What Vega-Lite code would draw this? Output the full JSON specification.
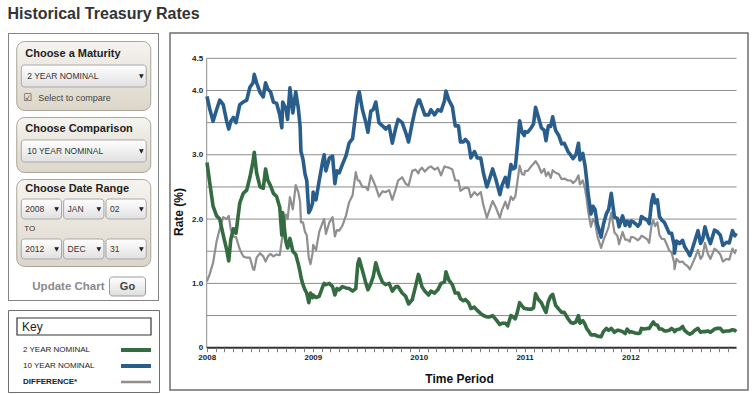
{
  "$schema": "https://vega.github.io/schema/vega-lite/v6.json",
  "background": "white",
  "padding": {"left": 7, "top": 6, "right": 0, "bottom": 0},
  "title": {"text": "Historical Treasury Rates", "anchor": "start", "font": "Liberation Sans", "fontSize": 16, "fontWeight": "bold", "color": "#333333", "offset": 10},
  "config": {"font": "Liberation Sans", "view": {"stroke": null}},
  "datasets": {
    "rates": [
      {"date":"2008-01-02","ten":3.91,"two":2.88,"diff":1.03},
      {"date":"2008-01-11","ten":3.72,"two":2.58,"diff":1.14},
      {"date":"2008-01-23","ten":3.52,"two":2.2,"diff":1.32},
      {"date":"2008-02-04","ten":3.7,"two":2.05,"diff":1.65},
      {"date":"2008-02-15","ten":3.85,"two":2.0,"diff":1.85},
      {"date":"2008-02-27","ten":3.78,"two":1.75,"diff":2.03},
      {"date":"2008-03-10","ten":3.52,"two":1.52,"diff":2.0},
      {"date":"2008-03-17","ten":3.4,"two":1.35,"diff":2.05},
      {"date":"2008-03-24","ten":3.52,"two":1.68,"diff":1.84},
      {"date":"2008-04-02","ten":3.58,"two":1.85,"diff":1.73},
      {"date":"2008-04-11","ten":3.5,"two":1.78,"diff":1.72},
      {"date":"2008-04-24","ten":3.78,"two":2.25,"diff":1.53},
      {"date":"2008-05-06","ten":3.82,"two":2.4,"diff":1.42},
      {"date":"2008-05-18","ten":3.85,"two":2.45,"diff":1.4},
      {"date":"2008-05-29","ten":4.05,"two":2.65,"diff":1.4},
      {"date":"2008-06-09","ten":4.12,"two":2.9,"diff":1.22},
      {"date":"2008-06-13","ten":4.25,"two":3.04,"diff":1.21},
      {"date":"2008-06-21","ten":4.12,"two":2.72,"diff":1.4},
      {"date":"2008-07-03","ten":3.97,"two":2.5,"diff":1.47},
      {"date":"2008-07-14","ten":3.9,"two":2.48,"diff":1.42},
      {"date":"2008-07-22","ten":4.12,"two":2.78,"diff":1.34},
      {"date":"2008-07-30","ten":4.02,"two":2.6,"diff":1.42},
      {"date":"2008-08-08","ten":3.98,"two":2.52,"diff":1.46},
      {"date":"2008-08-18","ten":3.82,"two":2.4,"diff":1.42},
      {"date":"2008-08-29","ten":3.8,"two":2.35,"diff":1.45},
      {"date":"2008-09-09","ten":3.62,"two":2.18,"diff":1.44},
      {"date":"2008-09-16","ten":3.42,"two":1.75,"diff":1.67},
      {"date":"2008-09-19","ten":3.82,"two":2.1,"diff":1.72},
      {"date":"2008-09-30","ten":3.72,"two":1.65,"diff":2.07},
      {"date":"2008-10-06","ten":3.55,"two":1.55,"diff":2.0},
      {"date":"2008-10-14","ten":4.04,"two":1.7,"diff":2.34},
      {"date":"2008-10-24","ten":3.65,"two":1.5,"diff":2.15},
      {"date":"2008-11-03","ten":3.98,"two":1.45,"diff":2.53},
      {"date":"2008-11-12","ten":3.72,"two":1.3,"diff":2.42},
      {"date":"2008-11-18","ten":3.45,"two":1.18,"diff":2.27},
      {"date":"2008-11-21","ten":3.05,"two":1.1,"diff":1.95},
      {"date":"2008-11-28","ten":2.93,"two":0.98,"diff":1.95},
      {"date":"2008-12-05","ten":2.7,"two":0.9,"diff":1.8},
      {"date":"2008-12-11","ten":2.6,"two":0.85,"diff":1.75},
      {"date":"2008-12-18","ten":2.1,"two":0.7,"diff":1.4},
      {"date":"2008-12-24","ten":2.15,"two":0.85,"diff":1.3},
      {"date":"2008-12-31","ten":2.25,"two":0.78,"diff":1.47},
      {"date":"2009-01-02","ten":2.42,"two":0.82,"diff":1.6},
      {"date":"2009-01-12","ten":2.3,"two":0.78,"diff":1.52},
      {"date":"2009-01-23","ten":2.6,"two":0.8,"diff":1.8},
      {"date":"2009-02-04","ten":2.9,"two":0.95,"diff":1.95},
      {"date":"2009-02-09","ten":3.0,"two":1.0,"diff":2.0},
      {"date":"2009-02-15","ten":2.75,"two":0.98,"diff":1.77},
      {"date":"2009-02-27","ten":2.95,"two":1.0,"diff":1.95},
      {"date":"2009-03-10","ten":2.98,"two":0.95,"diff":2.03},
      {"date":"2009-03-18","ten":2.55,"two":0.82,"diff":1.73},
      {"date":"2009-03-25","ten":2.75,"two":0.92,"diff":1.83},
      {"date":"2009-04-02","ten":2.72,"two":0.9,"diff":1.82},
      {"date":"2009-04-13","ten":2.85,"two":0.95,"diff":1.9},
      {"date":"2009-04-25","ten":2.98,"two":0.93,"diff":2.05},
      {"date":"2009-05-06","ten":3.18,"two":0.92,"diff":2.26},
      {"date":"2009-05-18","ten":3.25,"two":0.88,"diff":2.37},
      {"date":"2009-05-29","ten":3.65,"two":0.92,"diff":2.73},
      {"date":"2009-06-05","ten":3.9,"two":1.3,"diff":2.6},
      {"date":"2009-06-10","ten":3.98,"two":1.38,"diff":2.6},
      {"date":"2009-06-21","ten":3.7,"two":1.2,"diff":2.5},
      {"date":"2009-07-03","ten":3.5,"two":1.0,"diff":2.5},
      {"date":"2009-07-10","ten":3.35,"two":0.9,"diff":2.45},
      {"date":"2009-07-20","ten":3.68,"two":1.0,"diff":2.68},
      {"date":"2009-07-28","ten":3.7,"two":1.1,"diff":2.6},
      {"date":"2009-08-06","ten":3.82,"two":1.32,"diff":2.5},
      {"date":"2009-08-17","ten":3.5,"two":1.15,"diff":2.35},
      {"date":"2009-08-29","ten":3.45,"two":1.02,"diff":2.43},
      {"date":"2009-09-09","ten":3.4,"two":0.98,"diff":2.42},
      {"date":"2009-09-21","ten":3.45,"two":1.0,"diff":2.45},
      {"date":"2009-10-02","ten":3.18,"two":0.88,"diff":2.3},
      {"date":"2009-10-14","ten":3.42,"two":0.95,"diff":2.47},
      {"date":"2009-10-22","ten":3.55,"two":0.95,"diff":2.6},
      {"date":"2009-11-05","ten":3.5,"two":0.85,"diff":2.65},
      {"date":"2009-11-17","ten":3.35,"two":0.8,"diff":2.55},
      {"date":"2009-11-27","ten":3.2,"two":0.68,"diff":2.52},
      {"date":"2009-12-10","ten":3.5,"two":0.75,"diff":2.75},
      {"date":"2009-12-21","ten":3.72,"two":0.95,"diff":2.77},
      {"date":"2009-12-31","ten":3.85,"two":1.14,"diff":2.71},
      {"date":"2010-01-04","ten":3.85,"two":1.09,"diff":2.76},
      {"date":"2010-01-12","ten":3.75,"two":0.95,"diff":2.8},
      {"date":"2010-01-22","ten":3.62,"two":0.88,"diff":2.74},
      {"date":"2010-02-04","ten":3.62,"two":0.82,"diff":2.8},
      {"date":"2010-02-12","ten":3.7,"two":0.88,"diff":2.82},
      {"date":"2010-02-25","ten":3.62,"two":0.85,"diff":2.77},
      {"date":"2010-03-08","ten":3.7,"two":0.9,"diff":2.8},
      {"date":"2010-03-19","ten":3.68,"two":1.0,"diff":2.68},
      {"date":"2010-03-31","ten":3.84,"two":1.02,"diff":2.82},
      {"date":"2010-04-05","ten":3.99,"two":1.18,"diff":2.81},
      {"date":"2010-04-15","ten":3.85,"two":1.05,"diff":2.8},
      {"date":"2010-04-27","ten":3.75,"two":0.98,"diff":2.77},
      {"date":"2010-05-07","ten":3.45,"two":0.85,"diff":2.6},
      {"date":"2010-05-18","ten":3.45,"two":0.85,"diff":2.6},
      {"date":"2010-05-25","ten":3.2,"two":0.76,"diff":2.44},
      {"date":"2010-06-04","ten":3.2,"two":0.73,"diff":2.47},
      {"date":"2010-06-11","ten":3.24,"two":0.75,"diff":2.49},
      {"date":"2010-06-22","ten":3.18,"two":0.7,"diff":2.48},
      {"date":"2010-06-30","ten":2.95,"two":0.61,"diff":2.34},
      {"date":"2010-07-12","ten":3.05,"two":0.63,"diff":2.42},
      {"date":"2010-07-22","ten":2.95,"two":0.58,"diff":2.37},
      {"date":"2010-08-03","ten":2.95,"two":0.53,"diff":2.42},
      {"date":"2010-08-12","ten":2.72,"two":0.5,"diff":2.22},
      {"date":"2010-08-24","ten":2.5,"two":0.48,"diff":2.02},
      {"date":"2010-09-02","ten":2.62,"two":0.48,"diff":2.14},
      {"date":"2010-09-13","ten":2.78,"two":0.5,"diff":2.28},
      {"date":"2010-09-24","ten":2.62,"two":0.44,"diff":2.18},
      {"date":"2010-10-08","ten":2.38,"two":0.36,"diff":2.02},
      {"date":"2010-10-15","ten":2.52,"two":0.38,"diff":2.14},
      {"date":"2010-10-27","ten":2.65,"two":0.38,"diff":2.27},
      {"date":"2010-11-04","ten":2.5,"two":0.34,"diff":2.16},
      {"date":"2010-11-15","ten":2.85,"two":0.5,"diff":2.35},
      {"date":"2010-11-22","ten":2.78,"two":0.48,"diff":2.3},
      {"date":"2010-11-30","ten":2.8,"two":0.45,"diff":2.35},
      {"date":"2010-12-07","ten":3.12,"two":0.55,"diff":2.57},
      {"date":"2010-12-15","ten":3.53,"two":0.7,"diff":2.83},
      {"date":"2010-12-23","ten":3.35,"two":0.65,"diff":2.7},
      {"date":"2010-12-31","ten":3.3,"two":0.61,"diff":2.69},
      {"date":"2011-01-03","ten":3.36,"two":0.61,"diff":2.75},
      {"date":"2011-01-12","ten":3.35,"two":0.6,"diff":2.75},
      {"date":"2011-01-24","ten":3.42,"two":0.6,"diff":2.82},
      {"date":"2011-02-01","ten":3.48,"two":0.62,"diff":2.86},
      {"date":"2011-02-08","ten":3.74,"two":0.84,"diff":2.9},
      {"date":"2011-02-18","ten":3.58,"two":0.75,"diff":2.83},
      {"date":"2011-02-28","ten":3.42,"two":0.7,"diff":2.72},
      {"date":"2011-03-10","ten":3.38,"two":0.6,"diff":2.78},
      {"date":"2011-03-16","ten":3.22,"two":0.55,"diff":2.67},
      {"date":"2011-03-24","ten":3.45,"two":0.72,"diff":2.73},
      {"date":"2011-04-01","ten":3.44,"two":0.8,"diff":2.64},
      {"date":"2011-04-08","ten":3.59,"two":0.83,"diff":2.76},
      {"date":"2011-04-18","ten":3.38,"two":0.66,"diff":2.72},
      {"date":"2011-04-29","ten":3.3,"two":0.6,"diff":2.7},
      {"date":"2011-05-09","ten":3.17,"two":0.55,"diff":2.62},
      {"date":"2011-05-18","ten":3.18,"two":0.55,"diff":2.63},
      {"date":"2011-05-31","ten":3.05,"two":0.45,"diff":2.6},
      {"date":"2011-06-10","ten":2.99,"two":0.39,"diff":2.6},
      {"date":"2011-06-17","ten":2.94,"two":0.38,"diff":2.56},
      {"date":"2011-06-27","ten":3.0,"two":0.4,"diff":2.6},
      {"date":"2011-07-06","ten":3.18,"two":0.5,"diff":2.68},
      {"date":"2011-07-11","ten":2.92,"two":0.38,"diff":2.54},
      {"date":"2011-07-21","ten":3.02,"two":0.42,"diff":2.6},
      {"date":"2011-07-29","ten":2.82,"two":0.36,"diff":2.46},
      {"date":"2011-08-03","ten":2.62,"two":0.3,"diff":2.32},
      {"date":"2011-08-08","ten":2.4,"two":0.27,"diff":2.13},
      {"date":"2011-08-18","ten":2.08,"two":0.2,"diff":1.88},
      {"date":"2011-08-25","ten":2.2,"two":0.2,"diff":2.0},
      {"date":"2011-09-01","ten":2.15,"two":0.2,"diff":1.95},
      {"date":"2011-09-09","ten":1.92,"two":0.18,"diff":1.74},
      {"date":"2011-09-22","ten":1.72,"two":0.17,"diff":1.55},
      {"date":"2011-09-30","ten":1.92,"two":0.25,"diff":1.67},
      {"date":"2011-10-10","ten":2.08,"two":0.3,"diff":1.78},
      {"date":"2011-10-18","ten":2.15,"two":0.27,"diff":1.88},
      {"date":"2011-10-27","ten":2.4,"two":0.3,"diff":2.1},
      {"date":"2011-11-07","ten":2.03,"two":0.24,"diff":1.79},
      {"date":"2011-11-17","ten":2.01,"two":0.27,"diff":1.74},
      {"date":"2011-11-23","ten":1.88,"two":0.27,"diff":1.61},
      {"date":"2011-12-05","ten":2.05,"two":0.25,"diff":1.8},
      {"date":"2011-12-14","ten":1.9,"two":0.22,"diff":1.68},
      {"date":"2011-12-21","ten":1.97,"two":0.29,"diff":1.68},
      {"date":"2011-12-30","ten":1.89,"two":0.24,"diff":1.65},
      {"date":"2012-01-03","ten":1.97,"two":0.25,"diff":1.72},
      {"date":"2012-01-10","ten":1.96,"two":0.24,"diff":1.72},
      {"date":"2012-01-18","ten":1.93,"two":0.23,"diff":1.7},
      {"date":"2012-01-27","ten":1.89,"two":0.22,"diff":1.67},
      {"date":"2012-02-03","ten":1.93,"two":0.23,"diff":1.7},
      {"date":"2012-02-08","ten":2.04,"two":0.3,"diff":1.74},
      {"date":"2012-02-17","ten":2.01,"two":0.29,"diff":1.72},
      {"date":"2012-02-29","ten":1.98,"two":0.3,"diff":1.68},
      {"date":"2012-03-06","ten":1.93,"two":0.3,"diff":1.63},
      {"date":"2012-03-14","ten":2.27,"two":0.36,"diff":1.91},
      {"date":"2012-03-20","ten":2.38,"two":0.4,"diff":1.98},
      {"date":"2012-03-26","ten":2.25,"two":0.36,"diff":1.89},
      {"date":"2012-04-03","ten":2.3,"two":0.35,"diff":1.95},
      {"date":"2012-04-10","ten":2.04,"two":0.29,"diff":1.75},
      {"date":"2012-04-19","ten":1.98,"two":0.29,"diff":1.69},
      {"date":"2012-04-27","ten":1.95,"two":0.26,"diff":1.69},
      {"date":"2012-05-04","ten":1.88,"two":0.26,"diff":1.62},
      {"date":"2012-05-14","ten":1.78,"two":0.27,"diff":1.51},
      {"date":"2012-05-22","ten":1.78,"two":0.3,"diff":1.48},
      {"date":"2012-05-31","ten":1.59,"two":0.27,"diff":1.32},
      {"date":"2012-06-01","ten":1.47,"two":0.25,"diff":1.22},
      {"date":"2012-06-08","ten":1.66,"two":0.28,"diff":1.38},
      {"date":"2012-06-19","ten":1.62,"two":0.29,"diff":1.33},
      {"date":"2012-06-29","ten":1.67,"two":0.33,"diff":1.34},
      {"date":"2012-07-06","ten":1.57,"two":0.27,"diff":1.3},
      {"date":"2012-07-16","ten":1.5,"two":0.23,"diff":1.27},
      {"date":"2012-07-24","ten":1.43,"two":0.21,"diff":1.22},
      {"date":"2012-08-01","ten":1.53,"two":0.23,"diff":1.3},
      {"date":"2012-08-10","ten":1.66,"two":0.27,"diff":1.39},
      {"date":"2012-08-21","ten":1.82,"two":0.3,"diff":1.52},
      {"date":"2012-08-30","ten":1.62,"two":0.24,"diff":1.38},
      {"date":"2012-09-06","ten":1.68,"two":0.25,"diff":1.43},
      {"date":"2012-09-14","ten":1.88,"two":0.25,"diff":1.63},
      {"date":"2012-09-24","ten":1.72,"two":0.26,"diff":1.46},
      {"date":"2012-10-03","ten":1.62,"two":0.24,"diff":1.38},
      {"date":"2012-10-17","ten":1.83,"two":0.29,"diff":1.54},
      {"date":"2012-10-25","ten":1.81,"two":0.3,"diff":1.51},
      {"date":"2012-11-06","ten":1.75,"two":0.3,"diff":1.45},
      {"date":"2012-11-15","ten":1.59,"two":0.25,"diff":1.34},
      {"date":"2012-11-27","ten":1.64,"two":0.26,"diff":1.38},
      {"date":"2012-12-07","ten":1.63,"two":0.26,"diff":1.37},
      {"date":"2012-12-18","ten":1.82,"two":0.28,"diff":1.54},
      {"date":"2012-12-26","ten":1.74,"two":0.27,"diff":1.47},
      {"date":"2012-12-31","ten":1.78,"two":0.25,"diff":1.53}
    ]
  },
  "hconcat": [
    {
      "vconcat": [
        {
          "vconcat": [
            {"width": 151, "height": 1, "view": {"fill": "#858585", "stroke": null}, "data": {"values": [{}]}, "mark": {"type": "point", "size": 0, "opacity": 0}},
            {
              "hconcat": [
                {"width": 1, "height": 266, "view": {"fill": "#858585", "stroke": null}, "data": {"values": [{}]}, "mark": {"type": "point", "size": 0, "opacity": 0}},
                {
                  "vconcat": [
                    {"width": 149, "height": 1, "data": {"values": [{}]}, "mark": {"type": "point", "size": 0, "opacity": 0}},
                    {
                      "width": 134, "height": 69,
                      "view": {"fill": {"gradient": "linear", "x1": 0, "y1": 0, "x2": 0, "y2": 1, "stops": [{"offset": 0, "color": "#f6f4ef"}, {"offset": 1, "color": "#dcd6ca"}]}, "stroke": "#aaa599", "strokeWidth": 1, "cornerRadius": 8},
                      "data": {"values": [{"part": "header", "label": "Choose a Maturity"}, {"part": "select", "label": "2 YEAR NOMINAL"}, {"part": "check", "label": "Select to compare"}]},
                      "layer": [
                        {
                          "transform": [{"filter": "datum.part == 'header'"}],
                          "mark": {"type": "text", "align": "left", "dx": 4, "fontSize": 11, "fontWeight": "bold", "color": "#222222"},
                          "encoding": {
                            "x": {"datum": "start", "type": "nominal", "scale": {"type": "point", "domain": ["start", "end"], "range": [5, 130], "padding": 0}, "axis": null},
                            "y": {"field": "part", "type": "nominal", "scale": {"domain": ["header", "select", "check"], "range": [2, 68], "paddingInner": 0, "paddingOuter": 0}, "axis": null},
                            "text": {"field": "label"}
                          }
                        },
                        {
                          "transform": [{"filter": "datum.part == 'select'"}],
                          "mark": {"type": "rect", "fill": {"gradient": "linear", "x1": 0, "y1": 0, "x2": 0, "y2": 1, "stops": [{"offset": 0, "color": "#ffffff"}, {"offset": 1, "color": "#e0e0e0"}]}, "stroke": "#a8a8a8", "strokeWidth": 1, "cornerRadius": 3},
                          "encoding": {
                            "x": {"datum": "start", "type": "nominal", "scale": {"type": "point", "domain": ["start", "end"], "range": [5, 130], "padding": 0}, "axis": null},
                            "x2": {"datum": "end"},
                            "y": {"field": "part", "type": "nominal", "scale": {"domain": ["header", "select", "check"], "range": [2, 68], "paddingInner": 0, "paddingOuter": 0}, "axis": null}
                          }
                        },
                        {
                          "transform": [{"filter": "datum.part == 'select'"}],
                          "mark": {"type": "text", "align": "left", "dx": 6, "fontSize": 8.5, "color": "#333333"},
                          "encoding": {
                            "x": {"datum": "start", "type": "nominal", "scale": {"type": "point", "domain": ["start", "end"], "range": [5, 130], "padding": 0}, "axis": null},
                            "y": {"field": "part", "type": "nominal", "scale": {"domain": ["header", "select", "check"], "range": [2, 68], "paddingInner": 0, "paddingOuter": 0}, "axis": null},
                            "text": {"field": "label"}
                          }
                        },
                        {
                          "transform": [{"filter": "datum.part == 'select'"}],
                          "mark": {"type": "text", "dx": -5, "font": "DejaVu Sans", "fontSize": 6, "color": "#222222", "text": "▼"},
                          "encoding": {
                            "x": {"datum": "end", "type": "nominal", "scale": {"type": "point", "domain": ["start", "end"], "range": [5, 130], "padding": 0}, "axis": null},
                            "y": {"field": "part", "type": "nominal", "scale": {"domain": ["header", "select", "check"], "range": [2, 68], "paddingInner": 0, "paddingOuter": 0}, "axis": null}
                          }
                        },
                        {
                          "transform": [{"filter": "datum.part == 'check'"}],
                          "mark": {"type": "text", "dx": 6.5, "font": "DejaVu Sans", "fontSize": 10, "color": "#444444", "text": "☑"},
                          "encoding": {
                            "x": {"datum": "start", "type": "nominal", "scale": {"type": "point", "domain": ["start", "end"], "range": [5, 130], "padding": 0}, "axis": null},
                            "y": {"field": "part", "type": "nominal", "scale": {"domain": ["header", "select", "check"], "range": [2, 68], "paddingInner": 0, "paddingOuter": 0}, "axis": null}
                          }
                        },
                        {
                          "transform": [{"filter": "datum.part == 'check'"}],
                          "mark": {"type": "text", "align": "left", "dx": 17, "fontSize": 9, "color": "#444444"},
                          "encoding": {
                            "x": {"datum": "start", "type": "nominal", "scale": {"type": "point", "domain": ["start", "end"], "range": [5, 130], "padding": 0}, "axis": null},
                            "y": {"field": "part", "type": "nominal", "scale": {"domain": ["header", "select", "check"], "range": [2, 68], "paddingInner": 0, "paddingOuter": 0}, "axis": null},
                            "text": {"field": "label"}
                          }
                        }
                      ]
                    },
                    {
                      "width": 134, "height": 55,
                      "view": {"fill": {"gradient": "linear", "x1": 0, "y1": 0, "x2": 0, "y2": 1, "stops": [{"offset": 0, "color": "#f6f4ef"}, {"offset": 1, "color": "#dcd6ca"}]}, "stroke": "#aaa599", "strokeWidth": 1, "cornerRadius": 8},
                      "data": {"values": [{"part": "header", "label": "Choose Comparison"}, {"part": "select", "label": "10 YEAR NOMINAL"}]},
                      "layer": [
                        {
                          "transform": [{"filter": "datum.part == 'header'"}],
                          "mark": {"type": "text", "align": "left", "dx": 4, "fontSize": 11, "fontWeight": "bold", "color": "#222222"},
                          "encoding": {
                            "x": {"datum": "start", "type": "nominal", "scale": {"type": "point", "domain": ["start", "end"], "range": [5, 130], "padding": 0}, "axis": null},
                            "y": {"field": "part", "type": "nominal", "scale": {"domain": ["header", "select"], "range": [1, 45], "paddingInner": 0, "paddingOuter": 0}, "axis": null},
                            "text": {"field": "label"}
                          }
                        },
                        {
                          "transform": [{"filter": "datum.part == 'select'"}],
                          "mark": {"type": "rect", "fill": {"gradient": "linear", "x1": 0, "y1": 0, "x2": 0, "y2": 1, "stops": [{"offset": 0, "color": "#ffffff"}, {"offset": 1, "color": "#e0e0e0"}]}, "stroke": "#a8a8a8", "strokeWidth": 1, "cornerRadius": 3},
                          "encoding": {
                            "x": {"datum": "start", "type": "nominal", "scale": {"type": "point", "domain": ["start", "end"], "range": [5, 130], "padding": 0}, "axis": null},
                            "x2": {"datum": "end"},
                            "y": {"field": "part", "type": "nominal", "scale": {"domain": ["header", "select"], "range": [1, 45], "paddingInner": 0, "paddingOuter": 0}, "axis": null}
                          }
                        },
                        {
                          "transform": [{"filter": "datum.part == 'select'"}],
                          "mark": {"type": "text", "align": "left", "dx": 6, "fontSize": 8.5, "color": "#333333"},
                          "encoding": {
                            "x": {"datum": "start", "type": "nominal", "scale": {"type": "point", "domain": ["start", "end"], "range": [5, 130], "padding": 0}, "axis": null},
                            "y": {"field": "part", "type": "nominal", "scale": {"domain": ["header", "select"], "range": [1, 45], "paddingInner": 0, "paddingOuter": 0}, "axis": null},
                            "text": {"field": "label"}
                          }
                        },
                        {
                          "transform": [{"filter": "datum.part == 'select'"}],
                          "mark": {"type": "text", "dx": -5, "font": "DejaVu Sans", "fontSize": 6, "color": "#222222", "text": "▼"},
                          "encoding": {
                            "x": {"datum": "end", "type": "nominal", "scale": {"type": "point", "domain": ["start", "end"], "range": [5, 130], "padding": 0}, "axis": null},
                            "y": {"field": "part", "type": "nominal", "scale": {"domain": ["header", "select"], "range": [1, 45], "paddingInner": 0, "paddingOuter": 0}, "axis": null}
                          }
                        }
                      ]
                    },
                    {
                      "width": 134, "height": 87,
                      "view": {"fill": {"gradient": "linear", "x1": 0, "y1": 0, "x2": 0, "y2": 1, "stops": [{"offset": 0, "color": "#f6f4ef"}, {"offset": 1, "color": "#dcd6ca"}]}, "stroke": "#aaa599", "strokeWidth": 1, "cornerRadius": 8},
                      "data": {"values": [
                        {"part": "header", "slot": "year", "label": "Choose Date Range"},
                        {"part": "from", "slot": "year", "label": "2008"},
                        {"part": "from", "slot": "month", "label": "JAN"},
                        {"part": "from", "slot": "day", "label": "02"},
                        {"part": "tolabel", "slot": "year", "label": "TO"},
                        {"part": "to", "slot": "year", "label": "2012"},
                        {"part": "to", "slot": "month", "label": "DEC"},
                        {"part": "to", "slot": "day", "label": "31"}
                      ]},
                      "layer": [
                        {
                          "transform": [{"filter": "datum.part == 'header'"}],
                          "mark": {"type": "text", "align": "left", "dx": 4, "fontSize": 11, "fontWeight": "bold", "color": "#222222"},
                          "encoding": {
                            "x": {"field": "slot", "type": "nominal", "bandPosition": 0, "scale": {"domain": ["year", "month", "day"], "range": [5, 130], "paddingInner": 0.05, "paddingOuter": 0}, "axis": null},
                            "y": {"field": "part", "type": "nominal", "scale": {"domain": ["header", "from", "tolabel", "to"], "range": [0, 80], "paddingInner": 0, "paddingOuter": 0}, "axis": null},
                            "text": {"field": "label"}
                          }
                        },
                        {
                          "transform": [{"filter": "datum.part == 'from' || datum.part == 'to'"}],
                          "mark": {"type": "rect", "fill": {"gradient": "linear", "x1": 0, "y1": 0, "x2": 0, "y2": 1, "stops": [{"offset": 0, "color": "#ffffff"}, {"offset": 1, "color": "#e0e0e0"}]}, "stroke": "#a8a8a8", "strokeWidth": 1, "cornerRadius": 3},
                          "encoding": {
                            "x": {"field": "slot", "type": "nominal", "scale": {"domain": ["year", "month", "day"], "range": [5, 130], "paddingInner": 0.05, "paddingOuter": 0}, "axis": null},
                            "y": {"field": "part", "type": "nominal", "scale": {"domain": ["header", "from", "tolabel", "to"], "range": [0, 80], "paddingInner": 0, "paddingOuter": 0}, "axis": null}
                          }
                        },
                        {
                          "transform": [{"filter": "datum.part == 'from' || datum.part == 'to'"}],
                          "mark": {"type": "text", "align": "left", "dx": 4, "fontSize": 8.5, "color": "#333333"},
                          "encoding": {
                            "x": {"field": "slot", "type": "nominal", "bandPosition": 0, "scale": {"domain": ["year", "month", "day"], "range": [5, 130], "paddingInner": 0.05, "paddingOuter": 0}, "axis": null},
                            "y": {"field": "part", "type": "nominal", "scale": {"domain": ["header", "from", "tolabel", "to"], "range": [0, 80], "paddingInner": 0, "paddingOuter": 0}, "axis": null},
                            "text": {"field": "label"}
                          }
                        },
                        {
                          "transform": [{"filter": "datum.part == 'from' || datum.part == 'to'"}],
                          "mark": {"type": "text", "dx": -5, "font": "DejaVu Sans", "fontSize": 6, "color": "#222222", "text": "▼"},
                          "encoding": {
                            "x": {"field": "slot", "type": "nominal", "bandPosition": 1, "scale": {"domain": ["year", "month", "day"], "range": [5, 130], "paddingInner": 0.05, "paddingOuter": 0}, "axis": null},
                            "y": {"field": "part", "type": "nominal", "scale": {"domain": ["header", "from", "tolabel", "to"], "range": [0, 80], "paddingInner": 0, "paddingOuter": 0}, "axis": null}
                          }
                        },
                        {
                          "transform": [{"filter": "datum.part == 'tolabel'"}],
                          "mark": {"type": "text", "align": "left", "dx": 3, "fontSize": 8, "color": "#333333"},
                          "encoding": {
                            "x": {"field": "slot", "type": "nominal", "bandPosition": 0, "scale": {"domain": ["year", "month", "day"], "range": [5, 130], "paddingInner": 0.05, "paddingOuter": 0}, "axis": null},
                            "y": {"field": "part", "type": "nominal", "scale": {"domain": ["header", "from", "tolabel", "to"], "range": [0, 80], "paddingInner": 0, "paddingOuter": 0}, "axis": null},
                            "text": {"field": "label"}
                          }
                        }
                      ]
                    },
                    {
                      "width": 134, "height": 24,
                      "data": {"values": [{"role": "button", "label": "Go"}, {"role": "caption", "label": "Update Chart"}]},
                      "layer": [
                        {
                          "transform": [{"filter": "datum.role == 'button'"}],
                          "mark": {"type": "rect", "fill": {"gradient": "linear", "x1": 0, "y1": 0, "x2": 0, "y2": 1, "stops": [{"offset": 0, "color": "#ffffff"}, {"offset": 1, "color": "#dddddd"}]}, "stroke": "#9a9a9a", "strokeWidth": 1, "cornerRadius": 3},
                          "encoding": {
                            "x": {"datum": "start", "type": "nominal", "scale": {"type": "point", "domain": ["start", "mid", "end"], "range": [93, 129], "padding": 0}, "axis": null},
                            "x2": {"datum": "end"},
                            "y": {"datum": "row", "type": "nominal", "scale": {"domain": ["row"], "range": [5, 24], "paddingInner": 0, "paddingOuter": 0}, "axis": null}
                          }
                        },
                        {
                          "transform": [{"filter": "datum.role == 'button'"}],
                          "mark": {"type": "text", "fontSize": 11, "fontWeight": "bold", "color": "#444444"},
                          "encoding": {
                            "x": {"datum": "mid", "type": "nominal", "scale": {"type": "point", "domain": ["start", "mid", "end"], "range": [93, 129], "padding": 0}, "axis": null},
                            "y": {"datum": "row", "type": "nominal", "scale": {"domain": ["row"], "range": [5, 24], "paddingInner": 0, "paddingOuter": 0}, "axis": null},
                            "text": {"field": "label"}
                          }
                        },
                        {
                          "transform": [{"filter": "datum.role == 'caption'"}],
                          "mark": {"type": "text", "align": "right", "dx": -5, "fontSize": 11.5, "fontWeight": "bold", "color": "#8a8a8a"},
                          "encoding": {
                            "x": {"datum": "start", "type": "nominal", "scale": {"type": "point", "domain": ["start", "mid", "end"], "range": [93, 129], "padding": 0}, "axis": null},
                            "y": {"datum": "row", "type": "nominal", "scale": {"domain": ["row"], "range": [5, 24], "paddingInner": 0, "paddingOuter": 0}, "axis": null},
                            "text": {"field": "label"}
                          }
                        }
                      ]
                    }
                  ],
                  "spacing": 5,
                  "center": true
                },
                {"width": 1, "height": 266, "view": {"fill": "#858585", "stroke": null}, "data": {"values": [{}]}, "mark": {"type": "point", "size": 0, "opacity": 0}}
              ],
              "spacing": 0
            },
            {"width": 151, "height": 1, "view": {"fill": "#858585", "stroke": null}, "data": {"values": [{}]}, "mark": {"type": "point", "size": 0, "opacity": 0}}
          ],
          "spacing": 0
        },
        {
          "width": 151, "height": 82,
          "view": {"fill": "white", "stroke": "#6e6e6e", "strokeWidth": 1},
          "resolve": {"scale": {"x": "independent", "y": "independent"}},
          "layer": [
            {
              "data": {"values": [{"label": "Key"}]},
              "mark": {"type": "rect", "fill": "white", "stroke": "#333333", "strokeWidth": 1.2},
              "encoding": {
                "x": {"datum": "start", "type": "nominal", "scale": {"type": "point", "domain": ["start", "end"], "range": [9, 143], "padding": 0}, "axis": null},
                "x2": {"datum": "end"},
                "y": {"field": "label", "type": "nominal", "scale": {"domain": ["Key"], "range": [8, 25], "paddingInner": 0, "paddingOuter": 0}, "axis": null}
              }
            },
            {
              "data": {"values": [{"label": "Key"}]},
              "mark": {"type": "text", "align": "left", "dx": 5, "fontSize": 12, "color": "#222222"},
              "encoding": {
                "x": {"datum": "start", "type": "nominal", "scale": {"type": "point", "domain": ["start", "end"], "range": [9, 143], "padding": 0}, "axis": null},
                "y": {"field": "label", "type": "nominal", "scale": {"domain": ["Key"], "range": [8, 25], "paddingInner": 0, "paddingOuter": 0}, "axis": null},
                "text": {"field": "label"}
              }
            },
            {
              "data": {"values": [{"series": "2 YEAR NOMINAL"}, {"series": "10 YEAR NOMINAL"}]},
              "mark": {"type": "text", "align": "left", "fontSize": 8, "color": "#222222"},
              "encoding": {
                "x": {"datum": "label", "type": "nominal", "scale": {"type": "point", "domain": ["label", "swatch"], "range": [15, 128], "padding": 0}, "axis": null},
                "y": {"field": "series", "type": "nominal", "scale": {"type": "point", "domain": ["2 YEAR NOMINAL", "10 YEAR NOMINAL", "DIFFERENCE*"], "range": [40, 72], "padding": 0}, "axis": null},
                "text": {"field": "series"}
              }
            },
            {
              "data": {"values": [{"series": "DIFFERENCE*"}]},
              "mark": {"type": "text", "align": "left", "fontSize": 8, "fontWeight": "bold", "color": "#222222"},
              "encoding": {
                "x": {"datum": "label", "type": "nominal", "scale": {"type": "point", "domain": ["label", "swatch"], "range": [15, 128], "padding": 0}, "axis": null},
                "y": {"field": "series", "type": "nominal", "scale": {"type": "point", "domain": ["2 YEAR NOMINAL", "10 YEAR NOMINAL", "DIFFERENCE*"], "range": [40, 72], "padding": 0}, "axis": null},
                "text": {"field": "series"}
              }
            },
            {
              "data": {"values": [{"series": "2 YEAR NOMINAL"}, {"series": "10 YEAR NOMINAL"}]},
              "mark": {"type": "point", "shape": "stroke", "size": 900, "filled": false, "opacity": 1, "strokeWidth": 4},
              "encoding": {
                "x": {"datum": "swatch", "type": "nominal", "scale": {"type": "point", "domain": ["label", "swatch"], "range": [15, 128], "padding": 0}, "axis": null},
                "y": {"field": "series", "type": "nominal", "scale": {"type": "point", "domain": ["2 YEAR NOMINAL", "10 YEAR NOMINAL", "DIFFERENCE*"], "range": [40, 72], "padding": 0}, "axis": null},
                "color": {"field": "series", "type": "nominal", "scale": {"domain": ["2 YEAR NOMINAL", "10 YEAR NOMINAL", "DIFFERENCE*"], "range": ["#356b40", "#295e8c", "#8f8f8f"]}, "legend": null}
              }
            },
            {
              "data": {"values": [{"series": "DIFFERENCE*"}]},
              "mark": {"type": "point", "shape": "stroke", "size": 900, "filled": false, "opacity": 1, "strokeWidth": 2.5},
              "encoding": {
                "x": {"datum": "swatch", "type": "nominal", "scale": {"type": "point", "domain": ["label", "swatch"], "range": [15, 128], "padding": 0}, "axis": null},
                "y": {"field": "series", "type": "nominal", "scale": {"type": "point", "domain": ["2 YEAR NOMINAL", "10 YEAR NOMINAL", "DIFFERENCE*"], "range": [40, 72], "padding": 0}, "axis": null},
                "color": {"field": "series", "type": "nominal", "scale": {"domain": ["2 YEAR NOMINAL", "10 YEAR NOMINAL", "DIFFERENCE*"], "range": ["#356b40", "#295e8c", "#8f8f8f"]}, "legend": null}
              }
            }
          ]
        }
      ],
      "spacing": 8
    },
    {
      "width": 578, "height": 357,
      "view": {"stroke": "#6e6e6e", "strokeWidth": 1.5},
      "layer": [
        {
          "data": {"values": [{"level": 0.5}, {"level": 1}, {"level": 1.5}, {"level": 2}, {"level": 2.5}, {"level": 3}, {"level": 3.5}, {"level": 4}, {"level": 4.5}]},
          "mark": {"type": "rule", "color": "#8c8c8c", "strokeWidth": 1},
          "encoding": {
            "y": {"field": "level", "type": "quantitative", "title": "Rate (%)", "scale": {"domain": [-0.6577, 4.8937], "nice": false, "zero": false},
              "axis": {"orient": "left", "offset": -36.7, "zindex": 1, "values": [0, 0.5, 1, 1.5, 2, 2.5, 3, 3.5, 4, 4.5], "labelExpr": "indexof([0.5, 1.5, 2.5, 3.5], datum.value) >= 0 ? '' : (datum.value == 0 ? '0' : format(datum.value, '.1f'))", "domain": false, "grid": false, "ticks": false, "labelFont": "Liberation Sans", "labelFontSize": 8, "labelFontWeight": "bold", "labelColor": "#222222", "labelPadding": 4, "labelOverlap": false, "labelBound": false, "title": "Rate (%)", "titleFont": "Liberation Sans", "titleFontSize": 12, "titleFontWeight": "bold", "titleColor": "#111111", "titlePadding": 6}},
            "x": {"datum": {"year": 2008, "month": 1, "date": 1, "utc": true}, "type": "temporal", "title": "Time Period", "scale": {"type": "utc", "domain": [{"year": 2007, "month": 8, "date": 27, "hours": 11, "utc": true}, {"year": 2013, "month": 2, "date": 9, "hours": 12, "utc": true}]},
              "axis": {"orient": "bottom", "offset": -42.3, "zindex": 1, "values": {"expr": "utcSequence('month', utc(2008, 0, 1), utc(2013, 0, 1))"}, "labelExpr": "utcFormat(datum.value, '%m') == '01' ? utcFormat(datum.value, '%Y') : ''", "domain": false, "grid": false, "ticks": true, "tickSize": 4, "tickColor": "#7a7a7a", "tickWidth": 1, "labelFont": "Liberation Sans", "labelFontSize": 8, "labelFontWeight": "bold", "labelColor": "#222222", "labelPadding": 2, "labelFlush": false, "labelOverlap": false, "labelBound": false, "title": "Time Period", "titleFont": "Liberation Sans", "titleFontSize": 12, "titleFontWeight": "bold", "titleColor": "#111111", "titlePadding": 12}},
            "x2": {"datum": {"year": 2013, "month": 1, "date": 1, "utc": true}}
          }
        },
        {
          "data": {"values": [{}]},
          "mark": {"type": "rule", "color": "#8c8c8c", "strokeWidth": 1},
          "encoding": {
            "x": {"datum": {"year": 2008, "month": 1, "date": 1, "utc": true}, "type": "temporal", "title": "Time Period", "scale": {"type": "utc", "domain": [{"year": 2007, "month": 8, "date": 27, "hours": 11, "utc": true}, {"year": 2013, "month": 2, "date": 9, "hours": 12, "utc": true}]},
              "axis": {"orient": "bottom", "offset": -42.3, "zindex": 1, "values": {"expr": "utcSequence('month', utc(2008, 0, 1), utc(2013, 0, 1))"}, "labelExpr": "utcFormat(datum.value, '%m') == '01' ? utcFormat(datum.value, '%Y') : ''", "domain": false, "grid": false, "ticks": true, "tickSize": 4, "tickColor": "#7a7a7a", "tickWidth": 1, "labelFont": "Liberation Sans", "labelFontSize": 8, "labelFontWeight": "bold", "labelColor": "#222222", "labelPadding": 2, "labelFlush": false, "labelOverlap": false, "labelBound": false, "title": "Time Period", "titleFont": "Liberation Sans", "titleFontSize": 12, "titleFontWeight": "bold", "titleColor": "#111111", "titlePadding": 12}},
            "y": {"datum": 0, "type": "quantitative", "title": "Rate (%)", "scale": {"domain": [-0.6577, 4.8937], "nice": false, "zero": false},
              "axis": {"orient": "left", "offset": -36.7, "zindex": 1, "values": [0, 0.5, 1, 1.5, 2, 2.5, 3, 3.5, 4, 4.5], "labelExpr": "indexof([0.5, 1.5, 2.5, 3.5], datum.value) >= 0 ? '' : (datum.value == 0 ? '0' : format(datum.value, '.1f'))", "domain": false, "grid": false, "ticks": false, "labelFont": "Liberation Sans", "labelFontSize": 8, "labelFontWeight": "bold", "labelColor": "#222222", "labelPadding": 4, "labelOverlap": false, "labelBound": false, "title": "Rate (%)", "titleFont": "Liberation Sans", "titleFontSize": 12, "titleFontWeight": "bold", "titleColor": "#111111", "titlePadding": 6}},
            "y2": {"datum": 4.5}
          }
        },
        {
          "data": {"name": "rates"},
          "mark": {"type": "line", "color": "#8f8f8f", "strokeWidth": 2.2, "strokeJoin": "round"},
          "encoding": {
            "x": {"field": "date", "type": "temporal", "title": "Time Period", "scale": {"type": "utc", "domain": [{"year": 2007, "month": 8, "date": 27, "hours": 11, "utc": true}, {"year": 2013, "month": 2, "date": 9, "hours": 12, "utc": true}]},
              "axis": {"orient": "bottom", "offset": -42.3, "zindex": 1, "values": {"expr": "utcSequence('month', utc(2008, 0, 1), utc(2013, 0, 1))"}, "labelExpr": "utcFormat(datum.value, '%m') == '01' ? utcFormat(datum.value, '%Y') : ''", "domain": false, "grid": false, "ticks": true, "tickSize": 4, "tickColor": "#7a7a7a", "tickWidth": 1, "labelFont": "Liberation Sans", "labelFontSize": 8, "labelFontWeight": "bold", "labelColor": "#222222", "labelPadding": 2, "labelFlush": false, "labelOverlap": false, "labelBound": false, "title": "Time Period", "titleFont": "Liberation Sans", "titleFontSize": 12, "titleFontWeight": "bold", "titleColor": "#111111", "titlePadding": 12}},
            "y": {"field": "diff", "type": "quantitative", "title": "Rate (%)", "scale": {"domain": [-0.6577, 4.8937], "nice": false, "zero": false},
              "axis": {"orient": "left", "offset": -36.7, "zindex": 1, "values": [0, 0.5, 1, 1.5, 2, 2.5, 3, 3.5, 4, 4.5], "labelExpr": "indexof([0.5, 1.5, 2.5, 3.5], datum.value) >= 0 ? '' : (datum.value == 0 ? '0' : format(datum.value, '.1f'))", "domain": false, "grid": false, "ticks": false, "labelFont": "Liberation Sans", "labelFontSize": 8, "labelFontWeight": "bold", "labelColor": "#222222", "labelPadding": 4, "labelOverlap": false, "labelBound": false, "title": "Rate (%)", "titleFont": "Liberation Sans", "titleFontSize": 12, "titleFontWeight": "bold", "titleColor": "#111111", "titlePadding": 6}}
          }
        },
        {
          "data": {"name": "rates"},
          "mark": {"type": "line", "color": "#356b40", "strokeWidth": 3.6, "strokeJoin": "round"},
          "encoding": {
            "x": {"field": "date", "type": "temporal", "title": "Time Period", "scale": {"type": "utc", "domain": [{"year": 2007, "month": 8, "date": 27, "hours": 11, "utc": true}, {"year": 2013, "month": 2, "date": 9, "hours": 12, "utc": true}]},
              "axis": {"orient": "bottom", "offset": -42.3, "zindex": 1, "values": {"expr": "utcSequence('month', utc(2008, 0, 1), utc(2013, 0, 1))"}, "labelExpr": "utcFormat(datum.value, '%m') == '01' ? utcFormat(datum.value, '%Y') : ''", "domain": false, "grid": false, "ticks": true, "tickSize": 4, "tickColor": "#7a7a7a", "tickWidth": 1, "labelFont": "Liberation Sans", "labelFontSize": 8, "labelFontWeight": "bold", "labelColor": "#222222", "labelPadding": 2, "labelFlush": false, "labelOverlap": false, "labelBound": false, "title": "Time Period", "titleFont": "Liberation Sans", "titleFontSize": 12, "titleFontWeight": "bold", "titleColor": "#111111", "titlePadding": 12}},
            "y": {"field": "two", "type": "quantitative", "title": "Rate (%)", "scale": {"domain": [-0.6577, 4.8937], "nice": false, "zero": false},
              "axis": {"orient": "left", "offset": -36.7, "zindex": 1, "values": [0, 0.5, 1, 1.5, 2, 2.5, 3, 3.5, 4, 4.5], "labelExpr": "indexof([0.5, 1.5, 2.5, 3.5], datum.value) >= 0 ? '' : (datum.value == 0 ? '0' : format(datum.value, '.1f'))", "domain": false, "grid": false, "ticks": false, "labelFont": "Liberation Sans", "labelFontSize": 8, "labelFontWeight": "bold", "labelColor": "#222222", "labelPadding": 4, "labelOverlap": false, "labelBound": false, "title": "Rate (%)", "titleFont": "Liberation Sans", "titleFontSize": 12, "titleFontWeight": "bold", "titleColor": "#111111", "titlePadding": 6}}
          }
        },
        {
          "data": {"name": "rates"},
          "mark": {"type": "line", "color": "#295e8c", "strokeWidth": 3.6, "strokeJoin": "round"},
          "encoding": {
            "x": {"field": "date", "type": "temporal", "title": "Time Period", "scale": {"type": "utc", "domain": [{"year": 2007, "month": 8, "date": 27, "hours": 11, "utc": true}, {"year": 2013, "month": 2, "date": 9, "hours": 12, "utc": true}]},
              "axis": {"orient": "bottom", "offset": -42.3, "zindex": 1, "values": {"expr": "utcSequence('month', utc(2008, 0, 1), utc(2013, 0, 1))"}, "labelExpr": "utcFormat(datum.value, '%m') == '01' ? utcFormat(datum.value, '%Y') : ''", "domain": false, "grid": false, "ticks": true, "tickSize": 4, "tickColor": "#7a7a7a", "tickWidth": 1, "labelFont": "Liberation Sans", "labelFontSize": 8, "labelFontWeight": "bold", "labelColor": "#222222", "labelPadding": 2, "labelFlush": false, "labelOverlap": false, "labelBound": false, "title": "Time Period", "titleFont": "Liberation Sans", "titleFontSize": 12, "titleFontWeight": "bold", "titleColor": "#111111", "titlePadding": 12}},
            "y": {"field": "ten", "type": "quantitative", "title": "Rate (%)", "scale": {"domain": [-0.6577, 4.8937], "nice": false, "zero": false},
              "axis": {"orient": "left", "offset": -36.7, "zindex": 1, "values": [0, 0.5, 1, 1.5, 2, 2.5, 3, 3.5, 4, 4.5], "labelExpr": "indexof([0.5, 1.5, 2.5, 3.5], datum.value) >= 0 ? '' : (datum.value == 0 ? '0' : format(datum.value, '.1f'))", "domain": false, "grid": false, "ticks": false, "labelFont": "Liberation Sans", "labelFontSize": 8, "labelFontWeight": "bold", "labelColor": "#222222", "labelPadding": 4, "labelOverlap": false, "labelBound": false, "title": "Rate (%)", "titleFont": "Liberation Sans", "titleFontSize": 12, "titleFontWeight": "bold", "titleColor": "#111111", "titlePadding": 6}}
          }
        },
        {
          "data": {"values": [{}]},
          "mark": {"type": "rule", "color": "#333333", "strokeWidth": 2},
          "encoding": {
            "y": {"datum": 0, "type": "quantitative", "title": "Rate (%)", "scale": {"domain": [-0.6577, 4.8937], "nice": false, "zero": false},
              "axis": {"orient": "left", "offset": -36.7, "zindex": 1, "values": [0, 0.5, 1, 1.5, 2, 2.5, 3, 3.5, 4, 4.5], "labelExpr": "indexof([0.5, 1.5, 2.5, 3.5], datum.value) >= 0 ? '' : (datum.value == 0 ? '0' : format(datum.value, '.1f'))", "domain": false, "grid": false, "ticks": false, "labelFont": "Liberation Sans", "labelFontSize": 8, "labelFontWeight": "bold", "labelColor": "#222222", "labelPadding": 4, "labelOverlap": false, "labelBound": false, "title": "Rate (%)", "titleFont": "Liberation Sans", "titleFontSize": 12, "titleFontWeight": "bold", "titleColor": "#111111", "titlePadding": 6}},
            "x": {"datum": {"year": 2008, "month": 1, "date": 1, "utc": true}, "type": "temporal", "title": "Time Period", "scale": {"type": "utc", "domain": [{"year": 2007, "month": 8, "date": 27, "hours": 11, "utc": true}, {"year": 2013, "month": 2, "date": 9, "hours": 12, "utc": true}]},
              "axis": {"orient": "bottom", "offset": -42.3, "zindex": 1, "values": {"expr": "utcSequence('month', utc(2008, 0, 1), utc(2013, 0, 1))"}, "labelExpr": "utcFormat(datum.value, '%m') == '01' ? utcFormat(datum.value, '%Y') : ''", "domain": false, "grid": false, "ticks": true, "tickSize": 4, "tickColor": "#7a7a7a", "tickWidth": 1, "labelFont": "Liberation Sans", "labelFontSize": 8, "labelFontWeight": "bold", "labelColor": "#222222", "labelPadding": 2, "labelFlush": false, "labelOverlap": false, "labelBound": false, "title": "Time Period", "titleFont": "Liberation Sans", "titleFontSize": 12, "titleFontWeight": "bold", "titleColor": "#111111", "titlePadding": 12}},
            "x2": {"datum": {"year": 2013, "month": 1, "date": 1, "utc": true}}
          }
        }
      ]
    }
  ],
  "spacing": 9
}
